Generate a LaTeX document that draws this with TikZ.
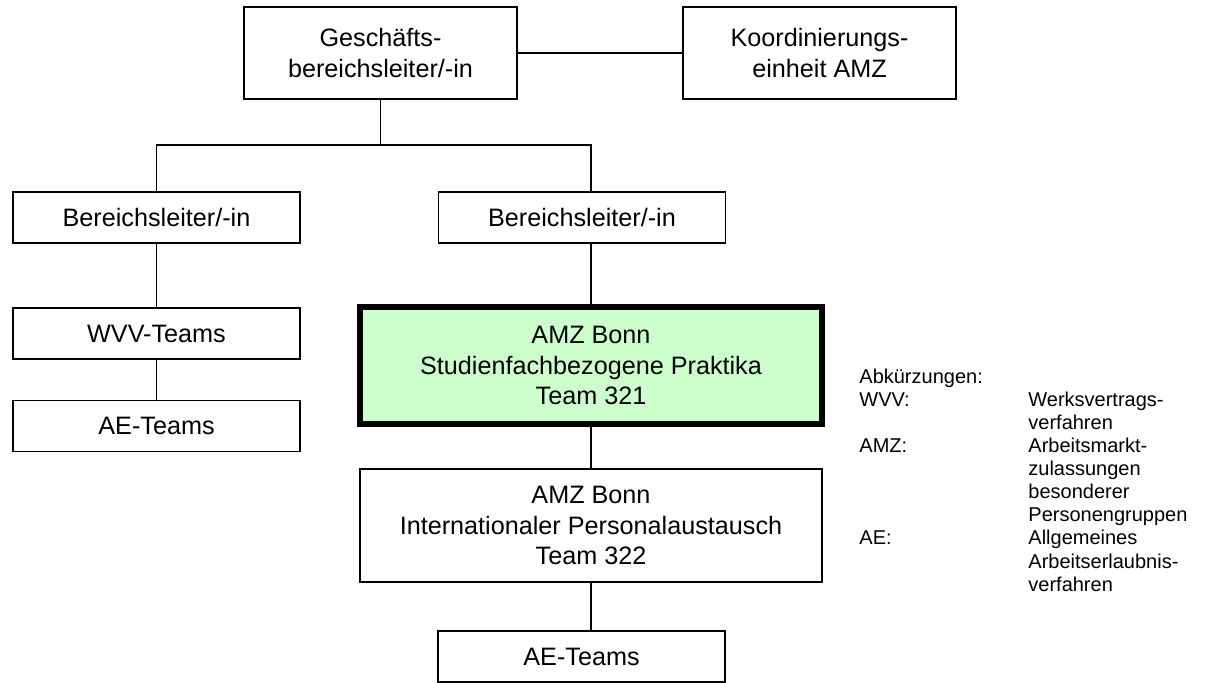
\documentclass[tikz,border=0pt]{standalone}
\usepackage{fontspec}
\setmainfont{Liberation Sans}
\usepackage{xcolor}
\usepackage{tikz}
\usetikzlibrary{positioning,calc}
\definecolor{teamgreen}{HTML}{CCFFCC}

\begin{document}
\begin{tikzpicture}[
      x=0.5pt, y=-0.5pt,
      font=\fontsize{12.6}{15.2}\selectfont,
      unit/.style={draw, line width=0.7pt, align=center, inner sep=0pt},
      wide/.style={unit, minimum width=273, minimum height=46},
      team/.style={unit, minimum width=143.5, minimum height=25.5},
      own/.style={unit, line width=3pt, fill=teamgreen, minimum width=231, minimum height=58.5},
      big/.style={unit, minimum width=231, minimum height=56.5},
      link/.style={line width=0.7pt},
      abbr/.style={anchor=base west, inner sep=0pt, font=\fontsize{10}{12}\selectfont},
    ]
    \useasboundingbox (0,0) rectangle (1220,683);

    % --- top: management and coordination ------------------------------------------
    \node[wide, minimum width=136.5] (gbl) at (380.5,53) {Geschäfts-\\bereichsleiter/-in};
    \node[wide, minimum width=136.5] (koord) at (819.5,53) {Koordinierungs-\\einheit AMZ};
    \draw[link] (gbl) -- (koord);

    % --- divisions ------------------------------------------------------------------
    \node[team] (bl1) at (156.5,217.5) {Bereichsleiter/-in};
    \node[team] (bl2) at (582,217.5) {Bereichsleiter/-in};
    \node[team] (wvv) at (156.5,333.5) {WVV-Teams};
    \node[team] (ae1) at (156.5,426) {AE-Teams};

    \coordinate (bus) at (380.5,145);
    \draw[link] (gbl) -- (bus);
    \draw[link] (bl1.north) |- (bus);

    % --- AMZ Bonn teams -------------------------------------------------------------
    \node[own] (t321) at (591,365.5) {AMZ Bonn\\Studienfachbezogene Praktika\\Team 321};
    \node[big] (t322) at (591,525.5) {AMZ Bonn\\Internationaler Personalaustausch\\Team 322};
    \node[team] (ae2) at (581.5,656.5) {AE-Teams};

    \draw[link] (bus) -| (t321.north |- bl2.north);
    \draw[link] (bl1) -- (wvv);
    \draw[link] (wvv) -- (ae1);
    \draw[link] (t321.north |- bl2.south) -- (t321.north);
    \draw[link] (t321) -- (t322);
    \draw[link] (t322.south) -- (t322.south |- ae2.north);

    % --- abbreviations --------------------------------------------------------------
    \foreach \i/\key/\val in {0/Abkürzungen:/{}, 1/WVV:/Werksvertrags-, 2/{}/verfahren,
        3/AMZ:/Arbeitsmarkt-, 4/{}/zulassungen, 5/{}/besonderer, 6/{}/Personengruppen,
        7/AE:/Allgemeines, 8/{}/Arbeitserlaubnis-, 9/{}/verfahren} {
      \node[abbr] (key\i) at (859,384+23*\i) {\key};
      \node[abbr] (val\i) at (1028,384+23*\i) {\val};
    }
  \end{tikzpicture}
\end{document}
